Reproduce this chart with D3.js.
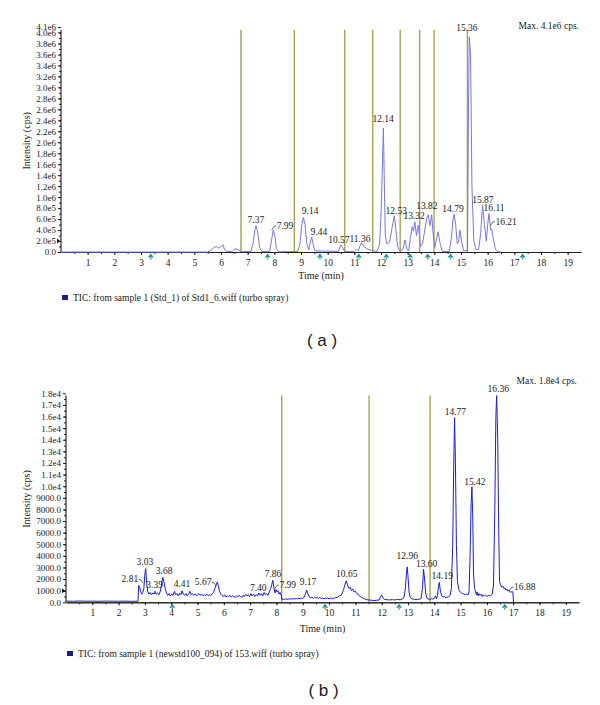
<!DOCTYPE html>
<html>
<head>
<meta charset="utf-8">
<script src="https://cdn.jsdelivr.net/npm/d3@7"></script>
<style>
  body { margin: 0; background: #fff; }
  svg text { font-family: "Liberation Serif", "Times New Roman", "DejaVu Serif", serif; fill: #1a1a1a; }
</style>
</head>
<body>
<svg id="chart" width="600" height="705"></svg>
<script>
// ---- panel (a): TIC of Std1_6.wiff, [time (min), intensity (cps)]
var traceA = [
  [0, 0], [5.5, 0], [5.6, 0.2e5], [5.72, 0.8e5], [5.82, 1.0e5], [5.92, 0.7e5], [6.02, 1.1e5], [6.07, 1.3e5],
  [6.14, 0.4e5], [6.22, 0.1e5], [6.42, 0.1e5], [6.52, 0.6e5], [6.6, 0.5e5], [6.68, 0.3e5], [6.78, 0.05e5],
  [7.12, 0.1e5], [7.2, 1.5e5], [7.27, 4.0e5], [7.31, 4.8e5], [7.37, 3.8e5], [7.45, 0.8e5], [7.53, 0.1e5],
  [7.82, 0.1e5], [7.89, 2.0e5], [7.96, 4.0e5], [8.02, 3.0e5], [8.08, 0.6e5], [8.16, 0.05e5],
  [8.88, 0.1e5], [8.96, 1.5e5], [9.03, 5.0e5], [9.09, 6.3e5], [9.15, 5.0e5], [9.22, 1.5e5], [9.29, 0.4e5],
  [9.35, 1.8e5], [9.4, 2.7e5], [9.45, 1.5e5], [9.52, 0.2e5], [10.4, 0.1e5], [10.46, 0.9e5], [10.5, 1.3e5],
  [10.56, 0.8e5], [10.64, 0.1e5], [11.0, 0.1e5], [11.08, 0.5e5], [11.15, 0.2e5], [11.22, 1.2e5], [11.27, 1.7e5],
  [11.36, 1.0e5], [11.5, 0.5e5], [11.65, 0.3e5], [11.85, 0.1e5], [11.95, 1.5e5], [12.01, 8.0e5], [12.09, 22.6e5],
  [12.12, 14.0e5], [12.16, 3.0e5], [12.22, 1.5e5], [12.32, 1.8e5], [12.4, 4.0e5], [12.5, 6.6e5], [12.55, 4.3e5],
  [12.62, 1.0e5], [12.72, 0.1e5], [12.82, 0.5e5], [12.9, 2.2e5], [12.97, 0.5e5], [13.04, 0.2e5], [13.1, 2.5e5],
  [13.17, 4.6e5], [13.22, 3.8e5], [13.27, 5.5e5], [13.33, 3.0e5], [13.4, 4.9e5], [13.48, 1.0e5], [13.56, 1.5e5],
  [13.64, 4.0e5], [13.72, 6.2e5], [13.77, 6.8e5], [13.84, 4.8e5], [13.9, 6.8e5], [13.96, 3.0e5], [14.02, 0.8e5],
  [14.09, 2.5e5], [14.14, 3.7e5], [14.22, 1.5e5], [14.3, 0.1e5], [14.56, 0.1e5], [14.64, 2.6e5], [14.71, 6.3e5],
  [14.74, 6.9e5], [14.8, 5.0e5], [14.86, 1.5e5], [14.91, 1.8e5], [14.96, 4.0e5], [15.02, 2.0e5], [15.1, 0.2e5],
  [15.24, 0.3e5], [15.28, 25e5], [15.31, 39.2e5], [15.36, 36e5], [15.41, 12e5], [15.48, 2.0e5], [15.56, 0.5e5],
  [15.66, 0.4e5], [15.74, 3.5e5], [15.81, 8.5e5], [15.88, 5.0e5], [15.95, 2.0e5], [16.0, 5.0e5], [16.05, 7.0e5],
  [16.11, 4.0e5], [16.15, 4.2e5], [16.21, 2.5e5], [16.29, 0.5e5], [16.38, 0.05e5], [16.5, 0]
];
var windowsA = [6.75, 8.75, 10.64, 11.69, 12.72, 13.45, 13.99, 15.24];
var cycleMarksA = [3.37, 7.75, 9.71, 11.17, 12.2, 13.09, 13.75, 14.61, 17.31];
var labelTextA = ["7.37", "7.99", "9.14", "9.44", "10.57", "11.36", "12.14", "12.53", "13.32", "13.82", "14.79", "15.36", "15.87", "16.11", "16.21"];
var labelTimeA = [7.31, 8.40, 9.34, 9.67, 10.42, 11.21, 12.08, 12.57, 13.24, 13.72, 14.70, 15.22, 15.82, 16.24, 16.69];
var labelLevelA = [5.3e5, 4.2e5, 6.9e5, 3.1e5, 1.7e5, 1.8e5, 23.6e5, 6.9e5, 6.1e5, 7.8e5, 7.3e5, 40.3e5, 9.0e5, 7.5e5, 5.0e5];
var leaderA = ["", "left", "", "", "", "", "", "", "", "", "", "", "", "", "left"];
var yTicksA = [0, 2e5, 4e5, 6e5, 8e5, 1.0e6, 1.2e6, 1.4e6, 1.6e6, 1.8e6, 2.0e6, 2.2e6, 2.4e6, 2.6e6, 2.8e6, 3.0e6, 3.2e6, 3.4e6, 3.6e6, 3.8e6, 4.0e6, 4.1e6];
var yTickLabelsA = ["0.0", "2.0e5", "4.0e5", "6.0e5", "8.0e5", "1.0e6", "1.2e6", "1.4e6", "1.6e6", "1.8e6", "2.0e6", "2.2e6", "2.4e6", "2.6e6", "2.8e6", "3.0e6", "3.2e6", "3.4e6", "3.6e6", "3.8e6", "4.0e6", "4.1e6"];

// ---- panel (b): TIC of 153.wiff
var traceB = [
  [0, 100], [0.25, 90], [0.5, 110], [0.75, 95], [1.0, 100], [1.25, 85], [1.5, 105], [1.75, 95], [2.0, 90], [2.25, 100],
  [2.5, 85], [2.7, 95], [2.74, 100], [2.76, 1450], [2.8, 1300], [2.84, 900], [2.88, 700], [2.92, 850], [2.96, 1200],
  [3.0, 2500], [3.03, 2900], [3.07, 1600], [3.11, 900], [3.15, 700], [3.2, 850], [3.25, 650], [3.3, 800], [3.35, 700],
  [3.39, 950], [3.43, 700], [3.48, 800], [3.53, 650], [3.58, 900], [3.63, 1500], [3.68, 2150], [3.72, 1800], [3.77, 1200],
  [3.82, 800], [3.87, 600], [3.92, 750], [3.97, 550], [4.02, 700], [4.07, 600], [4.12, 950], [4.17, 650], [4.22, 750],
  [4.27, 550], [4.32, 800], [4.37, 650], [4.41, 1000], [4.46, 700], [4.51, 600], [4.56, 750], [4.61, 550], [4.66, 700],
  [4.71, 950], [4.76, 650], [4.81, 750], [4.86, 600], [4.91, 700], [4.96, 550], [5.01, 650], [5.06, 750], [5.11, 600],
  [5.16, 700], [5.21, 550], [5.26, 650], [5.31, 600], [5.36, 700], [5.41, 550], [5.46, 650], [5.51, 600], [5.56, 700],
  [5.61, 850], [5.66, 1200], [5.71, 1500], [5.75, 1750], [5.79, 1450], [5.84, 900], [5.89, 700], [5.93, 600], [5.98, 500],
  [6.03, 650], [6.08, 450], [6.13, 550], [6.18, 500], [6.23, 600], [6.28, 450], [6.33, 550], [6.38, 500], [6.43, 400],
  [6.48, 550], [6.53, 450], [6.58, 600], [6.63, 500], [6.68, 450], [6.73, 600], [6.78, 500], [6.83, 700], [6.88, 550],
  [6.93, 650], [6.98, 500], [7.03, 750], [7.08, 550], [7.13, 700], [7.18, 500], [7.23, 650], [7.28, 550], [7.33, 800],
  [7.38, 600], [7.43, 750], [7.48, 550], [7.53, 850], [7.58, 650], [7.63, 750], [7.68, 600], [7.73, 900], [7.78, 1200],
  [7.82, 1500], [7.86, 1900], [7.9, 1300], [7.94, 800], [7.98, 1100], [8.02, 900], [8.06, 1000], [8.1, 700], [8.14, 850],
  [8.18, 600], [8.2, 250], [8.25, 280], [8.3, 250], [8.35, 300], [8.4, 260], [8.5, 300], [8.55, 270], [8.6, 320],
  [8.7, 280], [8.75, 330], [8.8, 290], [8.85, 350], [8.9, 300], [8.95, 380], [9.0, 320], [9.05, 450], [9.1, 700],
  [9.15, 1050], [9.2, 700], [9.25, 450], [9.3, 380], [9.35, 420], [9.4, 350], [9.45, 450], [9.5, 380], [9.55, 400],
  [9.6, 350], [9.65, 420], [9.7, 330], [9.75, 380], [9.8, 300], [9.85, 360], [9.9, 320], [9.95, 380], [10.0, 300],
  [10.05, 350], [10.1, 300], [10.15, 380], [10.2, 330], [10.25, 450], [10.3, 400], [10.35, 480], [10.4, 550], [10.45, 600],
  [10.5, 800], [10.55, 1100], [10.6, 1500], [10.65, 1850], [10.7, 1500], [10.75, 1200], [10.8, 1300], [10.85, 1000],
  [10.9, 1150], [10.95, 900], [11.0, 950], [11.05, 750], [11.1, 700], [11.15, 550], [11.2, 500], [11.25, 400], [11.3, 350],
  [11.35, 300], [11.4, 250], [11.45, 220], [11.5, 200], [11.6, 180], [11.7, 150], [11.8, 170], [11.9, 200], [11.95, 450],
  [12.0, 620], [12.05, 400], [12.1, 250], [12.2, 220], [12.3, 200], [12.4, 230], [12.5, 200], [12.6, 250], [12.7, 220],
  [12.8, 300], [12.85, 450], [12.9, 1200], [12.94, 2500], [12.97, 3050], [13.0, 2200], [13.04, 900], [13.08, 450],
  [13.15, 300], [13.25, 250], [13.35, 230], [13.45, 280], [13.5, 350], [13.55, 1200], [13.59, 2850], [13.63, 2000],
  [13.67, 800], [13.72, 350], [13.8, 250], [13.9, 300], [13.95, 280], [14.0, 350], [14.05, 550], [14.08, 300], [14.12, 600],
  [14.16, 1400], [14.19, 1720], [14.23, 1000], [14.28, 550], [14.33, 450], [14.38, 500], [14.43, 400], [14.5, 450],
  [14.55, 500], [14.6, 600], [14.65, 1200], [14.7, 5000], [14.74, 12000], [14.77, 15900], [14.8, 12500], [14.84, 5000],
  [14.88, 1800], [14.93, 1100], [14.98, 900], [15.03, 800], [15.08, 750], [15.13, 700], [15.18, 650], [15.23, 700],
  [15.28, 650], [15.32, 900], [15.36, 4000], [15.4, 8500], [15.43, 9950], [15.46, 7500], [15.49, 2500], [15.53, 1200],
  [15.57, 900], [15.6, 650], [15.63, 900], [15.66, 550], [15.7, 750], [15.74, 600], [15.78, 700], [15.82, 500], [15.86, 650],
  [15.9, 550], [15.95, 600], [16.0, 500], [16.05, 600], [16.1, 550], [16.15, 600], [16.2, 700], [16.25, 1500], [16.3, 8000],
  [16.34, 16000], [16.37, 17800], [16.41, 14000], [16.45, 6000], [16.48, 1800], [16.52, 1500], [16.56, 1300], [16.6, 1400],
  [16.64, 1200], [16.68, 1250], [16.72, 1050], [16.76, 1150], [16.8, 950], [16.84, 1050], [16.88, 900], [16.92, 850],
  [16.96, 950], [16.99, 800], [17.01, 0]
];
var windowsB = [8.2, 11.52, 13.84];
var cycleMarksB = [4.04, 9.85, 12.66, 16.68];
var labelTextB = ["2.81", "3.03", "3.39", "3.68", "4.41", "5.67", "7.40", "7.86", "7.99", "9.17", "10.65", "12.96", "13.60", "14.19", "14.77", "15.42", "16.36", "16.88"];
var labelTimeB = [2.43, 3.00, 3.37, 3.73, 4.41, 5.21, 7.31, 7.87, 8.43, 9.20, 10.67, 12.97, 13.71, 14.30, 14.80, 15.54, 16.43, 17.44];
var labelLevelB = [1720, 3240, 1260, 2460, 1320, 1460, 1000, 2150, 1230, 1490, 2200, 3700, 3070, 2030, 16130, 10100, 18130, 1060];
var leaderB = ["right", "", "", "", "", "right", "", "", "left", "", "", "", "", "", "", "", "", "left"];
var yTicksB = [0, 1000, 2000, 3000, 4000, 5000, 6000, 7000, 8000, 9000, 10000, 11000, 12000, 13000, 14000, 15000, 16000, 17000, 18000];
var yTickLabelsB = ["0.0", "1000.0", "2000.0", "3000.0", "4000.0", "5000.0", "6000.0", "7000.0", "8000.0", "9000.0", "1.0e4", "1.1e4", "1.2e4", "1.3e4", "1.4e4", "1.5e4", "1.6e4", "1.7e4", "1.8e4"];

var xTicks = [1, 2, 3, 4, 5, 6, 7, 8, 9, 10, 11, 12, 13, 14, 15, 16, 17, 18, 19];

var svg = d3.select("#chart");

function drawChromatogram(p) {
  var x = d3.scaleLinear().domain([0, 19.5]).range(p.xRange),
    y = d3.scaleLinear().domain([0, p.yMax]).range(p.yRange),
    y0 = y(0),
    yTop = y(p.axisTop),
    g = svg.append("g");

  // acquisition window lines
  g.selectAll(".win")
    .data(p.windows)
    .enter()
    .append("line")
    .attr("class", "win")
    .attr("x1", function(d) { return x(d); })
    .attr("x2", function(d) { return x(d); })
    .attr("y1", y0)
    .attr("y2", yTop)
    .attr("stroke", "#aca24f")
    .attr("stroke-width", 1.4);

  // x axis
  g.append("g")
    .attr("transform", "translate(0," + y0 + ")")
    .call(d3.axisBottom(x).tickValues(d3.range(0.5, 19.5, 0.5)).tickFormat("").tickSize(2).tickSizeOuter(0));
  var xa = g.append("g")
    .attr("transform", "translate(0," + y0 + ")")
    .call(d3.axisBottom(x).tickValues(xTicks).tickFormat(d3.format("d")).tickSize(3).tickSizeOuter(0).tickPadding(4));
  xa.attr("font-family", null).attr("font-size", 9.5);

  // y axis (domain line drawn by hand so it stops below the top label)
  g.append("g")
    .attr("transform", "translate(" + p.xRange[0] + ",0)")
    .call(d3.axisLeft(y).tickValues(p.minorY).tickFormat("").tickSize(2))
    .select(".domain").remove();
  var ya = g.append("g")
    .attr("transform", "translate(" + p.xRange[0] + ",0)")
    .call(d3.axisLeft(y).tickValues(p.yTicks).tickFormat(function(d, i) { return p.yTickLabels[i]; }).tickSize(3).tickPadding(2));
  ya.select(".domain").remove();
  ya.attr("font-family", null).attr("font-size", 9);
  g.append("line")
    .attr("x1", p.xRange[0]).attr("x2", p.xRange[0])
    .attr("y1", y0).attr("y2", yTop)
    .attr("stroke", "#000");
  g.selectAll(".tick line").attr("stroke", "#222");
  g.selectAll(".domain").attr("stroke", "#222");

  // threshold arrow left of the y axis
  g.append("path")
    .attr("d", "M" + (p.xRange[0] - 4) + "," + (y(p.threshold) - 2.5) + "l3,2.5l-3,2.5z")
    .attr("fill", "#111");

  // cycle markers under the time axis
  g.selectAll(".cyc")
    .data(p.cycles)
    .enter()
    .append("path")
    .attr("class", "cyc")
    .attr("d", function(d) {
      var cx = x(d);
      return "M" + cx + "," + (y0 + 1.5) + "l-3,4h6z M" + (cx - 0.6) + "," + (y0 + 5) + "h1.2v2.5h-1.2z";
    })
    .attr("fill", "#1f9892");

  // trace
  var line = d3.line()
    .x(function(d) { return x(d[0]); })
    .y(function(d) { return y(d[1]); })
    .curve(d3.curveLinear);
  g.append("path")
    .datum(p.trace)
    .attr("d", line)
    .attr("fill", "none")
    .attr("stroke", p.color)
    .attr("stroke-width", p.width)
    .attr("stroke-linejoin", "round");

  // peak labels
  p.labelText.forEach(function(t, i) {
    var lx = x(p.labelTime[i]), ly = y(p.labelLevel[i]);
    var txt = g.append("text")
      .attr("x", lx).attr("y", ly)
      .attr("text-anchor", "middle")
      .attr("font-size", 9.5)
      .text(t);
    var w = txt.node().getComputedTextLength();
    if (p.leader[i] == "left") {
      g.append("path")
        .attr("d", "M" + (lx - w / 2 - 0.5) + "," + (ly - 3) + "l-2,0.5l-2.5,3.5")
        .attr("fill", "none").attr("stroke", "#222").attr("stroke-width", 0.7);
    } else if (p.leader[i] == "right") {
      g.append("path")
        .attr("d", "M" + (lx + w / 2 + 0.5) + "," + (ly - 3) + "l2,0.5l2.5,3.5")
        .attr("fill", "none").attr("stroke", "#222").attr("stroke-width", 0.7);
    }
  });

  // max note
  g.append("text")
    .attr("x", p.xRange[1] - 2).attr("y", p.maxY)
    .attr("text-anchor", "end").attr("font-size", 9.5)
    .text(p.maxText);

  // axis titles
  var xm = (p.xRange[0] + p.xRange[1]) / 2;
  g.append("text")
    .attr("x", xm).attr("y", p.timeY)
    .attr("text-anchor", "middle").attr("font-size", 10)
    .text("Time (min)");
  g.append("text")
    .attr("transform", "translate(29.5," + ((y0 + yTop) / 2) + ") rotate(-90)")
    .attr("text-anchor", "middle").attr("font-size", 10)
    .text("Intensity (cps)");

  // legend
  g.append("rect")
    .attr("x", p.xRange[0] + 1).attr("y", p.legendY - 6)
    .attr("width", 6).attr("height", 5)
    .attr("fill", "#1c1c8c");
  g.append("text")
    .attr("x", p.xRange[0] + 12).attr("y", p.legendY)
    .attr("font-size", 9.5)
    .text(p.legend);

  // panel tag
  g.append("text")
    .attr("x", xm + 1).attr("y", p.tagY)
    .attr("text-anchor", "middle")
    .style("font-family", "'Liberation Sans', Arial, sans-serif")
    .attr("font-size", 17)
    .attr("xml:space", "preserve")
    .text(p.tag);
}

drawChromatogram({
  trace: traceA, windows: windowsA, cycles: cycleMarksA,
  labelText: labelTextA, labelTime: labelTimeA, labelLevel: labelLevelA, leader: leaderA,
  yTicks: yTicksA, yTickLabels: yTickLabelsA, minorY: d3.range(1e5, 4.1e6, 1e5),
  yMax: 4.1e6, axisTop: 4.05e6, threshold: 2e5,
  xRange: [61, 581], yRange: [252, 27],
  color: "#7676ee", width: 1,
  maxText: "Max. 4.1e6 cps.", maxY: 29, timeY: 279, legendY: 301, tagY: 346,
  legend: "TIC: from sample 1 (Std_1) of Std1_6.wiff (turbo spray)", tag: "( a )"
});

drawChromatogram({
  trace: traceB, windows: windowsB, cycles: cycleMarksB,
  labelText: labelTextB, labelTime: labelTimeB, labelLevel: labelLevelB, leader: leaderB,
  yTicks: yTicksB, yTickLabels: yTickLabelsB, minorY: d3.range(500, 18000, 500),
  yMax: 18000, axisTop: 17800, threshold: 1000,
  xRange: [66, 579], yRange: [602.3, 393.3],
  color: "#1a1ae6", width: 1,
  maxText: "Max. 1.8e4 cps.", maxY: 384, timeY: 632, legendY: 657, tagY: 696,
  legend: "TIC: from sample 1 (newstd100_094) of 153.wiff (turbo spray)", tag: "( b )"
});
</script>
</body>
</html>
